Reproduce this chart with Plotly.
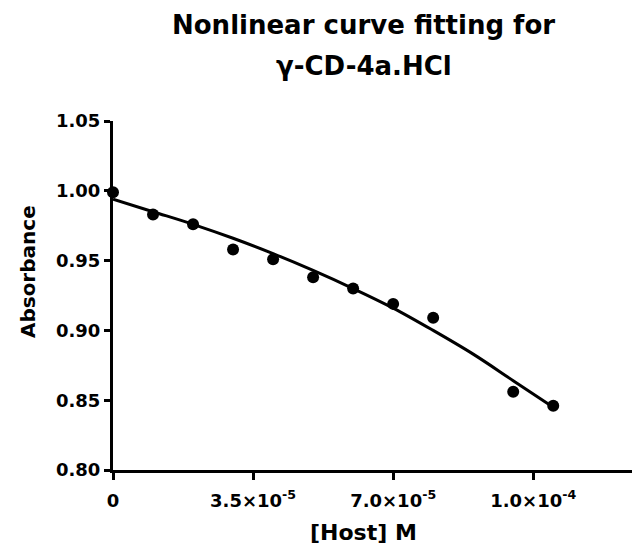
import plotly.graph_objects as go

# Data
host_conc = [0, 1.0e-5, 2.0e-5, 3.0e-5, 4.0e-5, 5.0e-5, 6.0e-5, 7.0e-5, 8.0e-5, 1.0e-4, 1.1e-4]
absorbance = [0.999, 0.983, 0.976, 0.958, 0.951, 0.938, 0.930, 0.919, 0.909, 0.856, 0.846]

fit_x = [0, 1.0e-5, 2.0e-5, 3.0e-5, 4.0e-5, 5.0e-5, 6.0e-5, 7.0e-5, 8.0e-5, 9.0e-5, 1.0e-4, 1.1e-4]
fit_y = [0.994, 0.985, 0.976, 0.966, 0.955, 0.943, 0.930, 0.916, 0.900, 0.883, 0.864, 0.845]

x_tickvals = [0, 3.5e-5, 7.0e-5, 1.05e-4]
x_ticktext = ["0", "3.5×10<sup>-5</sup>", "7.0×10<sup>-5</sup>", "1.0×10<sup>-4</sup>"]
y_tickvals = [0.80, 0.85, 0.90, 0.95, 1.00, 1.05]
y_ticktext = ["0.80", "0.85", "0.90", "0.95", "1.00", "1.05"]

title_lines = ["Nonlinear curve fitting for", "γ-CD-4a.HCl"]
x_title = "[Host] M"
y_title = "Absorbance"

FONT = "DejaVu Sans"

fig = go.Figure()
fig.add_trace(go.Scatter(
    x=fit_x, y=fit_y, mode="lines", line=dict(color="black", width=3, shape="spline"),
    cliponaxis=False, showlegend=False, hoverinfo="skip"))
fig.add_trace(go.Scatter(
    x=host_conc, y=absorbance, mode="markers",
    marker=dict(color="black", size=12), cliponaxis=False, showlegend=False))

# page body has an 8px default margin, so the figure is 8px smaller
fig.update_layout(
    width=632, height=546,
    margin=dict(l=105, r=0, t=113, b=84, autoexpand=False),
    paper_bgcolor="white", plot_bgcolor="white",
    font=dict(family=FONT, color="black"),
    xaxis=dict(range=[0, 1.3168e-4], showgrid=False, zeroline=False, automargin=False,
               showline=True, linecolor="black", linewidth=3,
               ticks="outside", ticklen=7, tickwidth=3, tickcolor="black",
               tickvals=x_tickvals, ticktext=x_ticktext,
               tickfont=dict(family=FONT, size=18, weight="bold", color="black"),
               ticklabelstandoff=5),
    yaxis=dict(range=[0.80, 1.05], showgrid=False, zeroline=False, automargin=False,
               showline=True, linecolor="black", linewidth=3,
               ticks="outside", ticklen=6, tickwidth=3, tickcolor="black",
               tickvals=y_tickvals, ticktext=y_ticktext,
               tickfont=dict(family=FONT, size=18, weight="bold", color="black")),
)

annotations = [
    dict(text=title_lines[0], xref="paper", yref="paper", x=0.476, y=1.275,
         xanchor="center", yanchor="middle", showarrow=False,
         font=dict(family=FONT, size=26, weight="bold", color="black")),
    dict(text=title_lines[1], xref="paper", yref="paper", x=0.476, y=1.158,
         xanchor="center", yanchor="middle", showarrow=False,
         font=dict(family=FONT, size=26, weight="bold", color="black")),
    dict(text=x_title, xref="paper", yref="paper", x=0.476, y=-0.178,
         xanchor="center", yanchor="middle", showarrow=False,
         font=dict(family=FONT, size=22, weight="bold", color="black")),
    dict(text=y_title, xref="paper", yref="paper", x=-0.1613, y=0.570,
         xanchor="center", yanchor="middle", showarrow=False, textangle=-90,
         font=dict(family=FONT, size=20, weight="bold", color="black")),
]
fig.update_layout(annotations=annotations)

fig.write_html("out.html")
